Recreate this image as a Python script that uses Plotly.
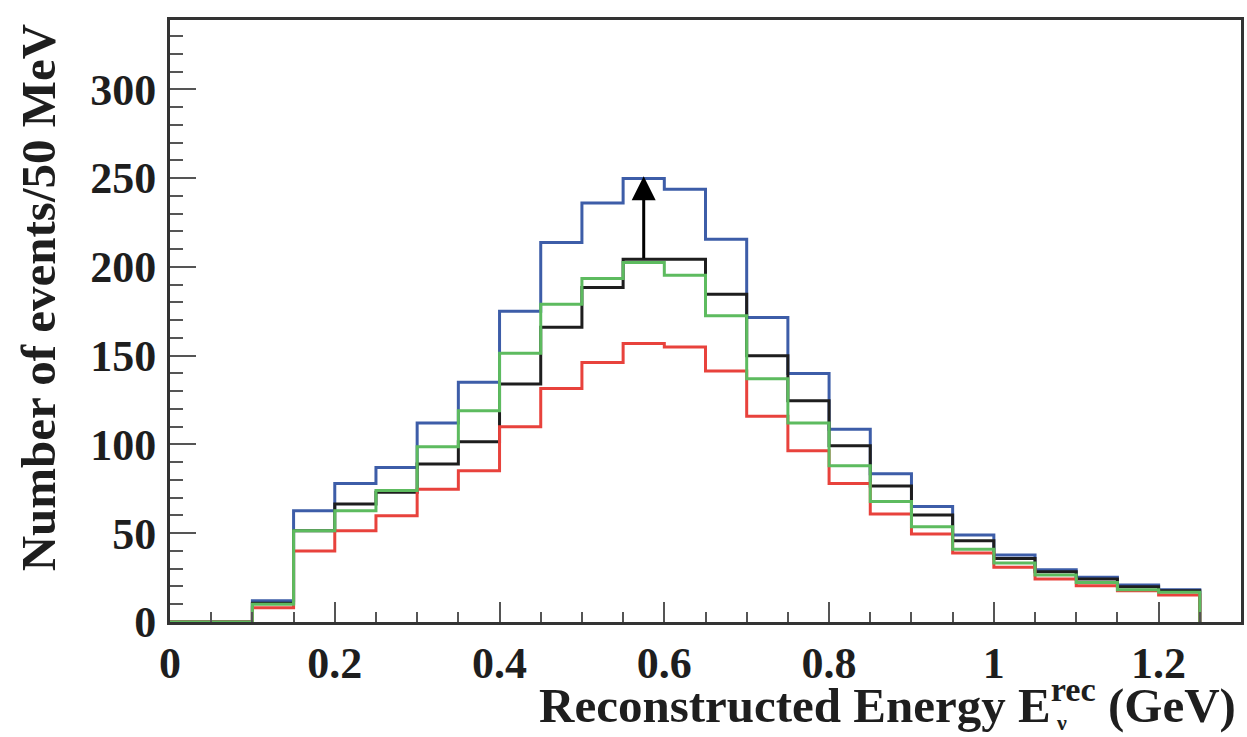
import plotly.graph_objects as go

# ---- data ----
bin_width = 0.05
bin_edges = [round(i * bin_width, 2) for i in range(26)]  # 0.00 ... 1.25

blue = [0, 0, 12, 62.6, 78, 87, 112, 135, 175, 213.7, 236, 249.7, 243.7, 215.5, 171.5,
        140, 108.6, 83.5, 65, 49, 37.7, 29.4, 25.2, 20.8, 18.2]
black = [0, 0, 10.5, 51.4, 66.4, 73, 89, 101.5, 134, 166, 188.3, 204.3, 204.3, 184.6, 150,
         124.6, 99.2, 76.6, 60.2, 45.8, 35.8, 28.3, 24.2, 19.9, 17.6]
green = [0, 0, 10, 51.4, 62.6, 74, 98.7, 119, 151.4, 179, 193.4, 202.4, 195.3, 172.4, 137,
         112, 88, 67.8, 53.6, 41, 33.2, 26.4, 22.3, 18.2, 16.7]
red = [0, 0, 8, 40, 51.4, 59.8, 74.8, 85.2, 110, 131.5, 146.1, 156.8, 154.9, 141.4, 115.8,
       96.4, 78, 60.8, 49.5, 38.8, 30.8, 24.2, 20.4, 17.6, 15.2]

arrow_x = 0.575
arrow_from = 204
arrow_to = 251

x_ticks = [0, 0.2, 0.4, 0.6, 0.8, 1.0, 1.2]
x_ticklabels = ["0", "0.2", "0.4", "0.6", "0.8", "1", "1.2"]
y_ticks = [0, 50, 100, 150, 200, 250, 300]

# ---- layout geometry ----
W, H = 1247, 737
L, R, T, B = 170, 1244, 20, 622
FONT = "Liberation Serif"


def px2paper_x(px):
    return (px - L) / (R - L)


def px2paper_y(py):
    return (B - py) / (B - T)


def step(vals):
    xs = list(bin_edges) + [bin_edges[-1]]
    ys = list(vals) + [vals[-1], 0]
    return xs, ys


fig = go.Figure()
for vals, col in [(blue, "#3d5da8"), (black, "#1e1e1e"), (red, "#e8423c"), (green, "#5dbb5f")]:
    xs, ys = step(vals)
    fig.add_trace(go.Scatter(x=xs, y=ys, mode="lines", line=dict(color=col, width=3, shape="hv"),
                             showlegend=False, hoverinfo="skip"))

fig.add_annotation(x=arrow_x, y=arrow_to, ax=arrow_x, ay=arrow_from, xref="x", yref="y",
                   axref="x", ayref="y", showarrow=True, arrowhead=2, arrowsize=1.6,
                   arrowwidth=3, arrowcolor="black", text="")

# y title
fig.add_annotation(text="<b>Number of events/50 MeV</b>", xref="paper", yref="paper",
                   x=px2paper_x(38), y=px2paper_y(297), xanchor="center", yanchor="middle",
                   textangle=-90, showarrow=False, font=dict(family=FONT, size=49, color="#1e1e1e"))
# x title
fig.add_annotation(text="<b>Reconstructed Energy E<sup>rec</sup> (GeV)</b>", xref="paper", yref="paper",
                   x=px2paper_x(1241), y=px2paper_y(701), xanchor="right", yanchor="middle",
                   showarrow=False, font=dict(family=FONT, size=49, color="#1e1e1e"))
fig.add_annotation(text="<b>ν</b>", xref="paper", yref="paper",
                   x=px2paper_x(1064), y=px2paper_y(722), xanchor="center", yanchor="middle",
                   showarrow=False, font=dict(family=FONT, size=22, color="#1e1e1e"))

axis_common = dict(showline=True, linecolor="#333333", linewidth=3, mirror=True,
                   showgrid=False, zeroline=False, ticks="inside", tickcolor="#555555",
                   tickwidth=2, tickfont=dict(family=FONT, size=44, color="#1e1e1e"))

fig.update_xaxes(range=[0, 1.3], tickvals=x_ticks, ticktext=["<b>%s</b>" % t for t in x_ticklabels],
                 ticklen=20, minor=dict(dtick=0.05, tick0=0, ticks="inside", ticklen=10,
                                        tickcolor="#555555", tickwidth=2),
                 **axis_common)
fig.update_yaxes(range=[0, 339], tickvals=y_ticks, ticktext=["<b>%d</b>" % t for t in y_ticks],
                 ticklen=26, ticklabelstandoff=2,
                 minor=dict(dtick=10, tick0=0, ticks="inside", ticklen=13,
                            tickcolor="#555555", tickwidth=2),
                 **axis_common)

fig.update_layout(width=W, height=H, margin=dict(l=L, r=W - R, t=T, b=H - B),
                  plot_bgcolor="white", paper_bgcolor="white", showlegend=False)

fig.write_html("out.html")
